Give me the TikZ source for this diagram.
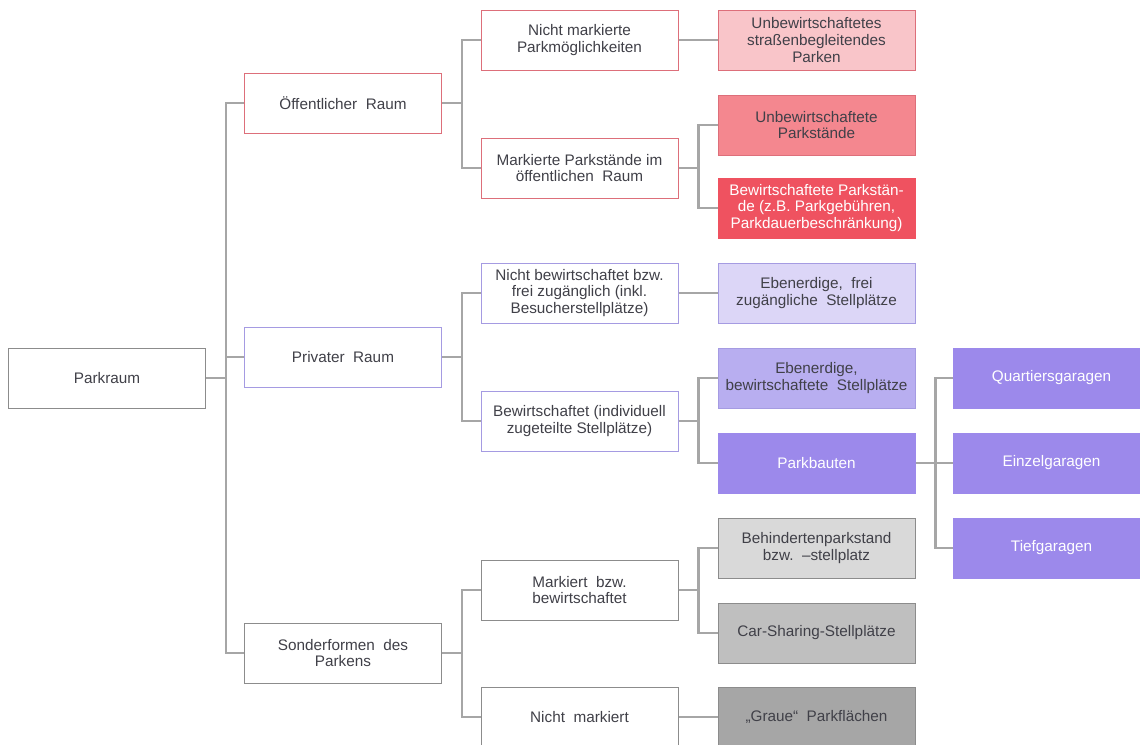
\documentclass[tikz,border=0pt]{standalone}
\usepackage{fontspec}
\setmainfont{Liberation Sans}
\definecolor{txtgray}{HTML}{404048}
\definecolor{linegray}{HTML}{A6A6A6}
\definecolor{redline}{HTML}{DD6F7A}
\definecolor{redA}{HTML}{F9C5C9}
\definecolor{redB}{HTML}{F4878F}
\definecolor{redC}{HTML}{EF5260}
\definecolor{violine}{HTML}{A59BE2}
\definecolor{vioA}{HTML}{DCD6F7}
\definecolor{vioB}{HTML}{B8AEF0}
\definecolor{vioC}{HTML}{9C89EB}
\definecolor{grayline}{HTML}{8C8C8C}
\definecolor{grayA}{HTML}{D9D9D9}
\definecolor{grayB}{HTML}{BFBFBF}
\definecolor{grayC}{HTML}{A6A6A6}
\tikzset{
  box/.style={draw, line width=1pt, fill=white, minimum width=197pt, minimum height=60pt,
    align=center, inner sep=2pt, text=txtgray, font=\fontsize{15.3}{16.6}\selectfont},
  redbox/.style={box, draw=redline},
  viobox/.style={box, draw=violine},
  graybox/.style={box, draw=grayline},
  conn/.style={draw=linegray, line width=2.2pt}
}
\begin{document}
\begin{tikzpicture}[x=1pt,y=-1pt]
\pgfmathsetmacro{\ga}{20}
\useasboundingbox (0,0) rectangle (1140,744);
% root and first level
\node[graybox] (parkraum) at (107,378) {Parkraum};
\node[redbox] (oeff) at (343,103) {Öffentlicher\ \ Raum};
\node[viobox] (priv) at (343,357) {Privater\ \ Raum};
\node[graybox] (sonder) at (343,653) {Sonderformen\ \ des\\Parkens};
% oeffentlicher Raum
\node[redbox] (nmpark) at (579.5,40) {Nicht markierte\\Parkmöglichkeiten};
\node[redbox] (mpark) at (579.5,168) {Markierte Parkstände im\\öffentlichen\ \ Raum};
\node[redbox,fill=redA] (unstr) at (816.5,40) {Unbewirtschaftetes\\straßenbegleitendes\\Parken};
\node[redbox,fill=redB] (unps) at (816.5,125) {Unbewirtschaftete\\Parkstände};
\node[redbox,fill=redC,draw=redC,text=white] (bewps) at (816.5,208) {Bewirtschaftete Parkstän-\\de (z.B. Parkgebühren,\\Parkdauerbeschränkung)};
% privater Raum
\node[viobox] (nbew) at (579.5,293) {Nicht bewirtschaftet bzw.\\frei zugänglich (inkl.\\Besucherstellplätze)};
\node[viobox] (bew) at (579.5,421) {Bewirtschaftet (individuell\\zugeteilte Stellplätze)};
\node[viobox,fill=vioA] (ebfrei) at (816.5,293) {Ebenerdige,\ \ frei\\zugängliche\ \ Stellplätze};
\node[viobox,fill=vioB] (ebbew) at (816.5,378) {Ebenerdige,\\bewirtschaftete\ \ Stellplätze};
\node[viobox,fill=vioC,draw=vioC,text=white] (pbau) at (816.5,463) {Parkbauten};
\node[viobox,fill=vioC,draw=vioC,text=white] (quart) at (1051.5,378) {Quartiersgaragen};
\node[viobox,fill=vioC,draw=vioC,text=white] (einz) at (1051.5,463) {Einzelgaragen};
\node[viobox,fill=vioC,draw=vioC,text=white] (tief) at (1051.5,548) {Tiefgaragen};
% Sonderformen
\node[graybox] (mbew) at (579.5,590) {Markiert\ \ bzw.\\bewirtschaftet};
\node[graybox] (nmark) at (579.5,717) {Nicht\ \ markiert};
\node[graybox,fill=grayA] (behind) at (816.5,548) {Behindertenparkstand\\bzw.\ \ –stellplatz};
\node[graybox,fill=grayB] (carsh) at (816.5,633) {Car-Sharing-Stellplätze};
\node[graybox,fill=grayC] (graue) at (816.5,717) {„Graue“\ \ Parkflächen};
% connectors
\foreach \p/\c in {parkraum/oeff,parkraum/priv,parkraum/sonder,
  oeff/nmpark,oeff/mpark,mpark/unps,mpark/bewps,nmpark/unstr,
  priv/nbew,priv/bew,nbew/ebfrei,bew/ebbew,bew/pbau,
  pbau/quart,pbau/einz,pbau/tief,
  sonder/mbew,sonder/nmark,mbew/behind,mbew/carsh,nmark/graue}
  \draw[conn] (\p.east) -- ++(\ga,0) |- (\c.west);
\end{tikzpicture}
\end{document}
